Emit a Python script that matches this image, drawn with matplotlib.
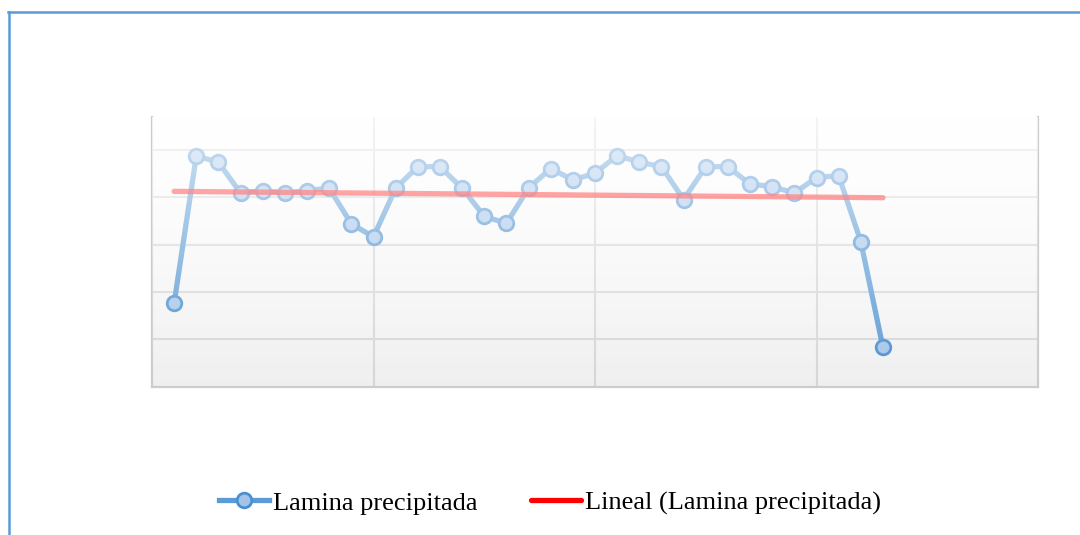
import numpy as np
import matplotlib
matplotlib.use("Agg")
import matplotlib.pyplot as plt
from matplotlib.lines import Line2D

# Annual precipitation depth per year index (mm)
years = list(range(1, 34))
lamina = [353, 975, 949, 818, 829, 818, 829, 839, 688, 633,
          839, 930, 930, 839, 720, 690, 839, 922, 874, 902,
          977, 949, 930, 791, 930, 930, 856, 846, 818, 884,
          892, 613, 165]

series_label = "Lamina precipitada"
trend_label = "Lineal (Lamina precipitada)"

blue = "#5b9bd5"
marker_face = "#a3c4ea"
marker_edge = "#4a8fd0"

fig = plt.figure(figsize=(10.8, 5.35), dpi=100)
ax = fig.add_axes([152 / 1080, 1 - 386.5 / 535, (1038 - 152) / 1080, (386.5 - 117) / 535])

x = np.array(years, dtype=float)
y = np.array(lamina, dtype=float)
xlim = (0, 40)
ylim = (0, 1140)

n = 256
frac = np.linspace(1.0, 0.0, n)

# plot-area fill: white at the top fading to light grey at the bottom
bg = np.ones((n, 1, 3))
shade = 1.0 - (1.0 - 0.94) * (1.0 - frac)
bg[:, 0, :] = shade[:, None]
ax.imshow(bg, extent=(*xlim, *ylim), origin="upper", aspect="auto",
          interpolation="bilinear", zorder=-5)

ax.set_xticks([10, 20, 30])
ax.set_yticks([200, 400, 600, 800, 1000])
ax.grid(True, color="#d6d6d6", linewidth=1.5, zorder=0)
ax.set_axisbelow(True)
ax.tick_params(length=0, labelleft=False, labelbottom=False)
for side in ("left", "right", "bottom"):
    ax.spines[side].set_color("#cccccc")
    ax.spines[side].set_linewidth(1.6)
ax.spines["top"].set_visible(False)

ax.plot(x, y, color=blue, linewidth=3.8, marker="o", markersize=10.5,
        markerfacecolor=marker_face, markeredgecolor=marker_edge,
        markeredgewidth=2.0, zorder=4)

# linear trend of the series, drawn over the data
coef = np.polyfit(x, y, 1)
ax.plot([x[0], x[-1]], np.polyval(coef, [x[0], x[-1]]), color="#ff0000",
        alpha=0.75, linewidth=3.8, solid_capstyle="round", zorder=5)

# soft white sheen over the marks, strongest at the top
sheen = np.ones((n, 1, 4))
sheen[:, 0, 3] = 0.74 * frac
ax.imshow(sheen, extent=(*xlim, *ylim), origin="upper", aspect="auto",
          interpolation="bilinear", zorder=10)
ax.set_xlim(*xlim)
ax.set_ylim(*ylim)

handles = [
    Line2D([], [], color=blue, linewidth=3.8, marker="o", markersize=10.5,
           markerfacecolor=marker_face, markeredgecolor=marker_edge,
           markeredgewidth=2.0),
    Line2D([], [], color="#ff0000", linewidth=3.8, solid_capstyle="round"),
]
fig.legend(handles, [series_label, trend_label], loc="center",
           bbox_to_anchor=(550 / 1080, 1 - 503 / 535), ncol=2, frameon=False,
           prop={"family": "Liberation Serif", "size": 19},
           handlelength=1.9, handletextpad=0.15, columnspacing=2.0, numpoints=1)

# chart border
fig.add_artist(Line2D([8.5 / 1080, 8.5 / 1080], [0, 1 - 12 / 535],
                      color=blue, linewidth=1.8, transform=fig.transFigure))
fig.add_artist(Line2D([8 / 1080, 1], [1 - 12 / 535, 1 - 12 / 535],
                      color=blue, linewidth=1.8, transform=fig.transFigure))

fig.savefig("out.png", dpi=100)
